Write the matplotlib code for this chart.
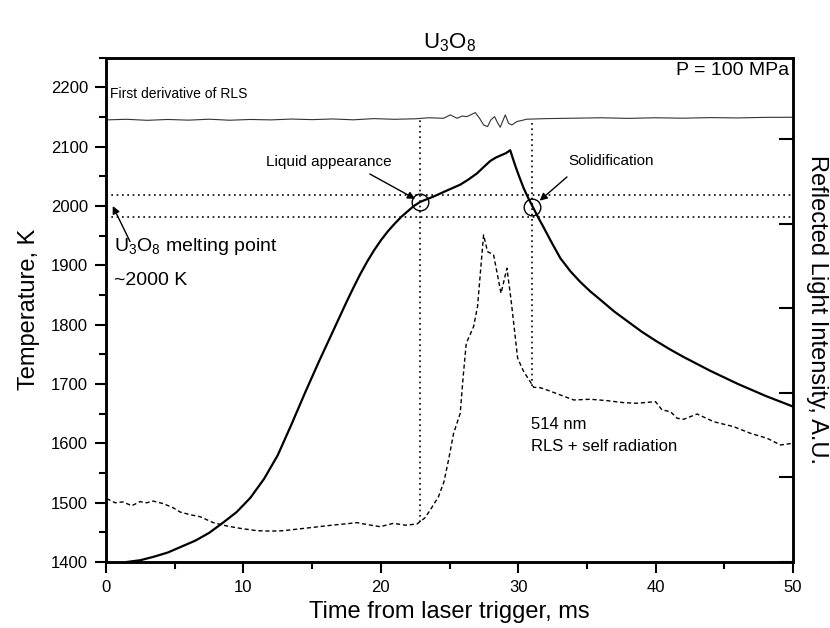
import numpy as np
import matplotlib
matplotlib.use('Agg')
import matplotlib.pyplot as plt

plt.rcParams['font.family'] = ['Liberation Sans', 'DejaVu Sans']
plt.rcParams['mathtext.fontset'] = 'custom'
plt.rcParams['mathtext.rm'] = 'Liberation Sans'

# temperature (K) vs time (ms)
t_temp = [1.5, 2.5, 3.5, 4.5, 5.5, 6.5, 7.5, 8.5, 9.5, 10.5, 11.5, 12.5, 13.5, 14.5, 15.5,
          16.5, 17.5, 18.0, 18.5, 19.0, 19.5, 20.0, 20.5, 21.0, 21.5, 22.0, 22.4, 22.87,
          23.84, 24.8, 25.78, 26.4, 27.0, 27.5, 27.97, 28.4, 28.7, 29.1, 29.42, 29.6, 29.8,
          30.1, 30.4, 30.7, 31.05, 31.45, 31.85, 32.4, 33.07, 33.8, 34.52, 35.25, 35.98,
          37, 38, 39, 40, 41, 42, 43, 44, 45, 46, 47, 48, 49, 50]
temp = [1400, 1403, 1409, 1416, 1426, 1436, 1449, 1466, 1484, 1508, 1540, 1580, 1632, 1686, 1738,
        1788, 1838, 1862, 1885, 1906, 1925, 1942, 1957, 1970, 1982, 1992, 2000, 2007,
        2016, 2026, 2036, 2045, 2055, 2066, 2076, 2082, 2085, 2089, 2094, 2081, 2067,
        2048, 2030, 2015, 1999, 1981, 1964, 1940, 1912, 1890, 1872, 1856, 1842,
        1822, 1805, 1788, 1773, 1759, 1746, 1734, 1722, 1711, 1700, 1690, 1680, 1671, 1662]

# reflected light signal, 514 nm (A.U.)
t_rls = [0.05, 0.66, 1.24, 1.87, 2.48, 2.96, 3.44, 4.17, 4.9, 5.39, 6.1, 6.85, 7.81, 8.79, 9.76,
         10.98, 12.0, 12.91, 14.0, 15.1, 16.55, 17.4, 18.26, 19.1, 19.96, 20.5, 20.92, 21.8, 22.63,
         23.2, 23.6, 24.2, 24.6, 24.93, 25.3, 25.78, 26.0, 26.22, 26.75, 27.04, 27.48, 27.77,
         28.21, 28.75, 29.18, 29.48, 29.96, 30.4, 30.88, 31.12, 31.6, 32.1, 33.07, 34.04, 35.25,
         36.47, 37.68, 38.65, 39.99, 40.47, 41.08, 41.57, 42.05, 43.02, 44.23, 45.69, 46.9,
         48.12, 49.09, 49.98]
rls = [0.75, 0.70, 0.71, 0.665, 0.713, 0.70, 0.72, 0.69, 0.64, 0.591, 0.56, 0.535, 0.465, 0.426, 0.398,
       0.37, 0.365, 0.37, 0.39, 0.41, 0.437, 0.45, 0.465, 0.44, 0.417, 0.44, 0.457, 0.435, 0.449,
       0.52, 0.615, 0.772, 0.95, 1.206, 1.521, 1.758, 2.2, 2.585, 2.781, 3.018, 3.865, 3.668,
       3.629, 3.176, 3.472, 3.097, 2.408, 2.25, 2.131, 2.065, 2.06, 2.033, 1.974, 1.915, 1.923,
       1.907, 1.883, 1.876, 1.895, 1.797, 1.777, 1.699, 1.687, 1.749, 1.658, 1.599, 1.521,
       1.462, 1.383, 1.403]

# first derivative of RLS (offset, A.U.)
t_der = [0, 1.5, 3, 4.5, 6, 7.5, 9, 10.5, 12, 13.5, 15, 16.5, 18, 19.5, 21, 22.5, 23.5,
         24.57, 25.06, 25.55, 25.91, 26.27, 26.88, 27.19, 27.48, 27.77, 28.01, 28.28, 28.52,
         28.69, 29.06, 29.3, 29.54, 29.9, 30.63, 32, 34, 36, 38, 40, 42, 44, 46, 48, 50]
der = [5.225, 5.232, 5.22, 5.23, 5.222, 5.233, 5.221, 5.23, 5.225, 5.235, 5.228, 5.236, 5.226, 5.24, 5.232, 5.238, 5.25,
       5.244, 5.284, 5.244, 5.27, 5.264, 5.311, 5.244, 5.165, 5.146, 5.225, 5.264, 5.185,
       5.138, 5.284, 5.185, 5.165, 5.205, 5.233, 5.24, 5.245, 5.25, 5.243, 5.25, 5.245, 5.252, 5.248, 5.255, 5.256]

melt_lines = [2018, 1982]
liquid_t, liquid_T = 22.82, 2006
solid_t, solid_T = 31.03, 1999

fig = plt.figure(figsize=(8.3, 6.28), dpi=100)
ax = fig.add_axes([106/830, 66/628, 687/830, 504.3/628])
ax2 = ax.twinx()

ax.plot(t_temp, temp, color='k', lw=1.6, zorder=3)
ax2.plot(t_rls, rls, color='k', lw=1.0, linestyle=(0, (3, 2)))
ax2.plot(t_der, der, color='#333333', lw=0.8)

for y in melt_lines:
    ax.plot([0, 50], [y, y], color='k', lw=1.2, linestyle=(0, (1, 2.2)))
ax2.plot([liquid_t, liquid_t], [0.47, 5.23], color='k', lw=1.2, linestyle=(0, (1, 2.2)))
ax2.plot([31.0, 31.0], [2.08, 5.20], color='k', lw=1.2, linestyle=(0, (1, 2.2)))

ax.plot([liquid_t, solid_t], [liquid_T, solid_T], 'o', ms=12, mfc='none', mec='k', mew=1.0, zorder=4)

arrow = dict(arrowstyle='-|>', color='k', lw=1.0, mutation_scale=11, shrinkA=0, shrinkB=0)
ax.annotate('', xy=(22.5, 2012), xytext=(19.2, 2054), arrowprops=arrow)
ax.annotate('', xy=(31.56, 2009), xytext=(33.55, 2049), arrowprops=arrow)
ax.annotate('', xy=(0.49, 2000), xytext=(1.75, 1940), arrowprops=arrow)

ax.text(16.2, 2074, 'Liquid appearance', fontsize=11, ha='center', va='center')
ax.text(36.75, 2076, 'Solidification', fontsize=11, ha='center', va='center')
ax.text(0.6, 1932, r'U$_3$O$_8$ melting point', fontsize=14, ha='left', va='center')
ax.text(0.6, 1875, '~2000 K', fontsize=14, ha='left', va='center')
ax.text(30.95, 1631, '514 nm', fontsize=12, ha='left', va='center')
ax.text(30.95, 1594, 'RLS + self radiation', fontsize=12, ha='left', va='center')
ax.text(0.3, 2188, 'First derivative of RLS', fontsize=10, ha='left', va='center')
ax.text(49.7, 2228, 'P = 100 MPa', fontsize=14, ha='right', va='center')

ax.set_xlim(0, 50)
ax.set_ylim(1400, 2250)
ax.set_xticks(np.arange(0, 51, 10))
ax.set_xticks(np.arange(0, 51, 5), minor=True)
ax.set_yticks(np.arange(1400, 2201, 100))
ax.set_yticks(np.arange(1400, 2251, 50), minor=True)
ax.tick_params(which='major', direction='out', length=8, width=1.5, labelsize=12, pad=5,
               top=False, right=False)
ax.tick_params(which='minor', direction='out', length=5, width=1.5, top=False, right=False)

ax2.set_ylim(0, 5.96)
ax2.set_yticks(np.arange(0, 6, 1))
ax2.set_yticklabels([])
ax2.tick_params(direction='in', length=10, width=1.5)

for a in (ax, ax2):
    for s in a.spines.values():
        s.set_linewidth(1.8)

ax.set_xlabel('Time from laser trigger, ms', fontsize=17, labelpad=4)
ax.set_ylabel('Temperature, K', fontsize=17, labelpad=8)
ax2.set_ylabel('Reflected Light Intensity, A.U.', fontsize=17, rotation=270, labelpad=22)
ax.set_title(r'U$_3$O$_8$', fontsize=16, pad=7)

fig.savefig('out.png', dpi=100)
